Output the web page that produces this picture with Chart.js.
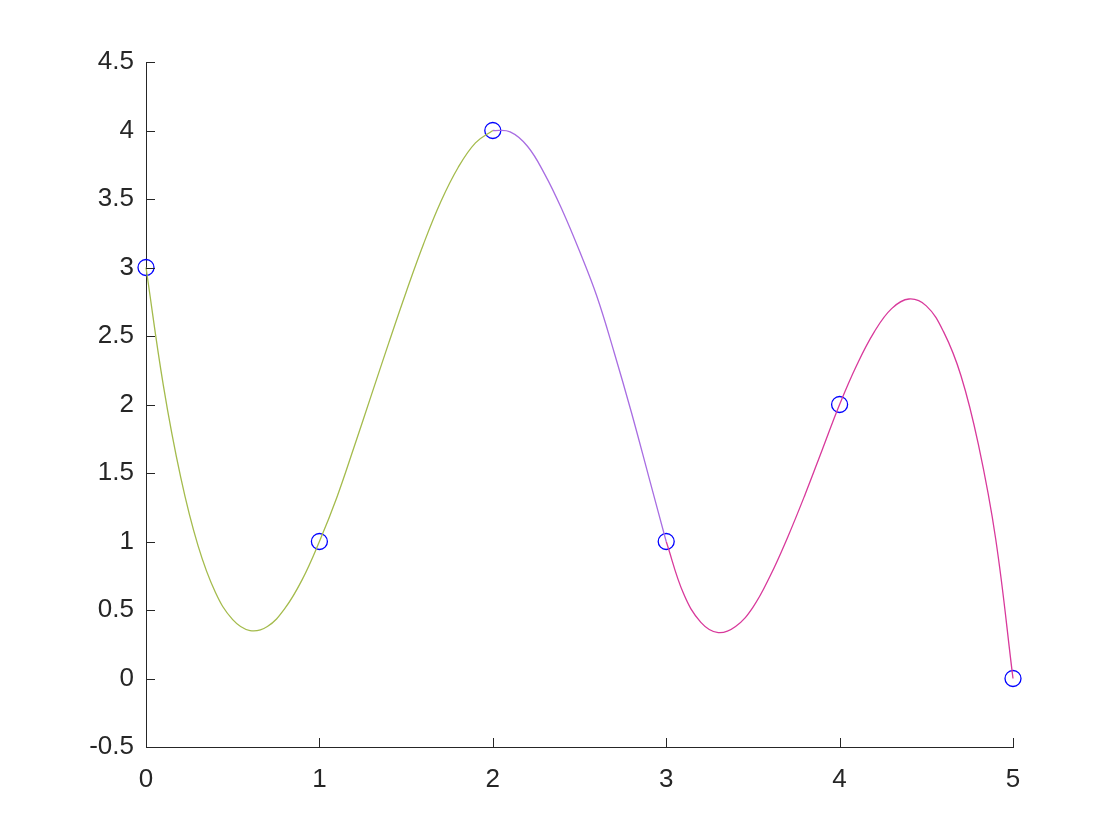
<!DOCTYPE html>
<html>
<head>
<meta charset="utf-8">
<script src="https://cdn.jsdelivr.net/npm/chart.js@4"></script>
<style>
html,body{margin:0;padding:0;background:#fff;}
#wrap{width:1120px;height:840px;}
</style>
</head>
<body>
<div id="wrap"><canvas id="c" width="1120" height="840"></canvas></div>
<script>
// Data points (circles)
const pointX = [0, 1, 2, 3, 4, 5];
const pointY = [3, 1, 4, 1, 2, 0];

// Segment 1 (olive)
const seg1X = [0, 0.1, 0.2, 0.3, 0.4, 0.5, 0.6, 0.7, 0.8, 0.9, 1.0, 1.1, 1.2, 1.3, 1.4, 1.5, 1.6, 1.7, 1.8, 1.9, 2.0];
const seg1Y = [3, 2.14, 1.47, 0.97, 0.63, 0.43, 0.35, 0.38, 0.51, 0.72, 1.0, 1.32, 1.69, 2.07, 2.45, 2.82, 3.17, 3.48, 3.73, 3.91, 4.0];

// Segment 2 (purple)
const seg2X = [2.0, 2.1, 2.2, 2.3, 2.4, 2.5, 2.6, 2.7, 2.8, 2.9, 3.0];
const seg2Y = [4.0, 3.99, 3.885, 3.68, 3.42, 3.12, 2.79, 2.38, 1.94, 1.47, 1.0];

// Segment 3 (magenta)
const seg3X = [3.0, 3.1, 3.2, 3.3, 3.4, 3.5, 3.6, 3.7, 3.8, 3.9, 4.0, 4.1, 4.2, 4.3, 4.4, 4.5, 4.6, 4.7, 4.8, 4.9, 5.0];
const seg3Y = [1.0, 0.62, 0.41, 0.335, 0.38, 0.52, 0.75, 1.03, 1.34, 1.67, 2.0, 2.29, 2.53, 2.70, 2.77, 2.72, 2.53, 2.21, 1.71, 1.02, 0.0];

// Tick values
const xTicks = [0, 1, 2, 3, 4, 5];
const yTicks = [-0.5, 0, 0.5, 1, 1.5, 2, 2.5, 3, 3.5, 4, 4.5];

const toXY = (xs, ys) => xs.map((x, i) => ({x: x, y: ys[i]}));

const AXIS = '#262626';
const FONT = "'Liberation Sans', Arial, sans-serif";

const inwardTicks = {
  id: 'inwardTicks',
  afterDatasetsDraw(chart) {
    const ctx = chart.ctx;
    const xs = chart.scales.x, ys = chart.scales.y;
    const ca = chart.chartArea;
    const len = 9;
    ctx.save();
    ctx.strokeStyle = AXIS;
    ctx.lineWidth = 1;
    ctx.beginPath();
    xTicks.forEach(v => {
      const px = Math.round(xs.getPixelForValue(v)) + 0.5;
      ctx.moveTo(px, ca.bottom);
      ctx.lineTo(px, ca.bottom - len);
    });
    yTicks.forEach(v => {
      const py = Math.round(ys.getPixelForValue(v)) + 0.5;
      ctx.moveTo(ca.left, py);
      ctx.lineTo(ca.left + len, py);
    });
    ctx.stroke();
    ctx.restore();
  }
};

const lineDs = (xs, ys, color) => ({
  type: 'scatter',
  data: toXY(xs, ys),
  showLine: true,
  borderColor: color,
  borderWidth: 1.3,
  pointRadius: 0,
  pointHoverRadius: 0,
  tension: 0.4,
  fill: false,
  clip: false
});

new Chart(document.getElementById('c'), {
  type: 'scatter',
  data: {
    datasets: [
      lineDs(seg1X, seg1Y, '#a4bb4c'),
      lineDs(seg2X, seg2Y, '#a86de2'),
      lineDs(seg3X, seg3Y, '#d8399b'),
      {
        type: 'scatter',
        data: toXY(pointX, pointY),
        showLine: false,
        pointStyle: 'circle',
        pointRadius: 8,
        pointBorderWidth: 1.3,
        borderColor: '#0000ff',
        backgroundColor: 'rgba(0,0,0,0)',
        pointBackgroundColor: 'rgba(0,0,0,0)',
        pointBorderColor: '#0000ff',
        clip: false
      }
    ]
  },
  options: {
    responsive: false,
    animation: false,
    devicePixelRatio: 1,
    layout: { padding: { left: 0, right: 107, top: 62, bottom: 0 } },
    plugins: { legend: { display: false }, tooltip: { enabled: false } },
    scales: {
      x: {
        type: 'linear',
        min: 0, max: 5,
        afterFit(s) { s.height = 93; },
        afterBuildTicks(s) { s.ticks = xTicks.map(v => ({value: v})); },
        grid: { display: true, drawOnChartArea: false, drawTicks: false },
        border: { display: true, color: AXIS, width: 1 },
        ticks: {
          color: AXIS,
          font: { family: FONT, size: 26 },
          padding: 17,
          maxRotation: 0,
          callback: v => String(v)
        }
      },
      y: {
        type: 'linear',
        min: -0.5, max: 4.5,
        afterFit(s) { s.width = 146; },
        afterBuildTicks(s) { s.ticks = yTicks.map(v => ({value: v})); },
        grid: { display: true, drawOnChartArea: false, drawTicks: false },
        border: { display: true, color: AXIS, width: 1 },
        ticks: {
          color: AXIS,
          font: { family: FONT, size: 26 },
          padding: 12,
          callback: v => String(v)
        }
      }
    }
  },
  plugins: [inwardTicks]
});
</script>
</body>
</html>
